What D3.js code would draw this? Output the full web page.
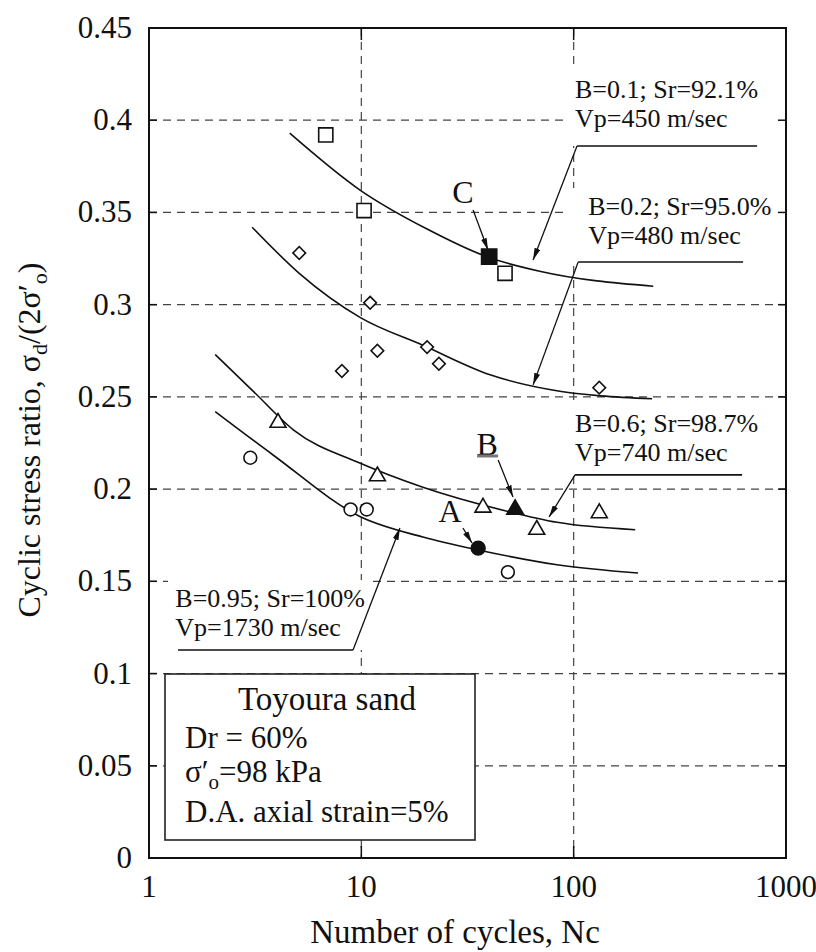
<!DOCTYPE html>
<html>
<head>
<meta charset="utf-8">
<script src="https://d3js.org/d3.v7.min.js"></script>
<style>
  body { margin: 0; background: #fff; }
  svg text { font-family: "Liberation Serif", "Times New Roman", serif; fill: #111; }
</style>
</head>
<body>
<div id="chart"></div>
<script>
// axis ticks
var xTicks = [1, 10, 100, 1000];
var yTicks = [0, 0.05, 0.1, 0.15, 0.2, 0.25, 0.3, 0.35, 0.4, 0.45];
var yTickLabels = ['0', '0.05', '0.1', '0.15', '0.2', '0.25', '0.3', '0.35', '0.4', '0.45'];

// B=0.1 (open squares)
var sqN = [6.8, 10.3, 47.5];
var sqCSR = [0.392, 0.351, 0.317];
// B=0.2 (open diamonds)
var diaN = [5.1, 8.1, 11.0, 11.9, 20.4, 23.2, 132];
var diaCSR = [0.328, 0.264, 0.301, 0.275, 0.277, 0.268, 0.255];
// B=0.6 (open triangles)
var triN = [4.05, 11.9, 37.4, 67, 132];
var triCSR = [0.236, 0.207, 0.190, 0.178, 0.187];
// B=0.95 (open circles)
var cirN = [3.0, 8.9, 10.6, 49];
var cirCSR = [0.217, 0.189, 0.189, 0.155];

// the three marked tests (filled symbols)
var keyNames = ['A', 'B', 'C'];
var keyN = [35.5, 53, 40];
var keyCSR = [0.168, 0.189, 0.326];

// fitted curves
var fitN01 = [4.6, 9.9, 20.4, 39, 70, 237];
var fitCSR01 = [0.393, 0.362, 0.341, 0.326, 0.318, 0.310];
var fitN02 = [3.06, 5.1, 9.9, 19.5, 40.4, 77, 234];
var fitCSR02 = [0.342, 0.317, 0.293, 0.278, 0.262, 0.254, 0.249];
var fitN06 = [2.05, 3.1, 4.8, 9.9, 19.5, 48.6, 83.5, 195];
var fitCSR06 = [0.273, 0.253, 0.232, 0.214, 0.201, 0.188, 0.182, 0.178];
var fitN095 = [2.05, 3.84, 9.9, 19.5, 35.5, 83.5, 201];
var fitCSR095 = [0.242, 0.2185, 0.185, 0.174, 0.167, 0.159, 0.1545];

// curve notes
var noteLines = [
  ['B=0.1; Sr=92.1%', 'Vp=450 m/sec'],
  ['B=0.2; Sr=95.0%', 'Vp=480 m/sec'],
  ['B=0.6; Sr=98.7%', 'Vp=740 m/sec'],
  ['B=0.95; Sr=100%', 'Vp=1730 m/sec']
];
var noteTextN = [101.5, 117, 101.5, 1.33];
var noteTextCSR = [0.412, 0.3486, 0.231, 0.1361];
var noteElbowN = [103.7, 105, 101.5, 9.14];
var noteElbowCSR = [0.386, 0.3231, 0.2077, 0.1128];
var noteEndN = [731, 628, 621, 1.37];
var noteTipN = [64.4, 64.4, 76.6, 15.2];
var noteTipCSR = [0.3242, 0.2565, 0.1849, 0.1789];

// letter labels for A, B, C
var letterN = [26.2, 39.1, 30.1];
var letterCSR = [0.1822, 0.2185, 0.3551];
var letterFromN = [30.1, 44.1, 33.6];
var letterFromCSR = [0.1789, 0.2158, 0.3513];
var letterToN = [33.2, 51.8, 39.5];
var letterToCSR = [0.1708, 0.1957, 0.3296];

var legendLines = ['Dr = 60%', 'D.A. axial strain=5%'];

var width = 816, height = 952;
var plotL = 149, plotR = 786, plotT = 28, plotB = 858;

var x = d3.scaleLog().domain([1, 1000]).range([plotL, plotR]);
var y = d3.scaleLinear().domain([0, 0.45]).range([plotB, plotT]);

var svg = d3.select('#chart').append('svg')
  .attr('width', width)
  .attr('height', height);

svg.append('defs').append('marker')
  .attr('id', 'arrow')
  .attr('viewBox', '0 0 12 6')
  .attr('refX', 12).attr('refY', 3)
  .attr('markerWidth', 12).attr('markerHeight', 6)
  .attr('markerUnits', 'userSpaceOnUse')
  .attr('orient', 'auto')
  .append('path')
  .attr('d', 'M0,0 L12,3 L0,6 Z')
  .attr('fill', '#111');

// dashed grid
svg.append('g').selectAll('line')
  .data(yTicks.slice(1, -1)).enter()
  .append('line')
  .attr('x1', plotL).attr('x2', plotR)
  .attr('y1', function(d) { return y(d); })
  .attr('y2', function(d) { return y(d); })
  .attr('stroke', '#444').attr('stroke-width', 1.2)
  .attr('stroke-dasharray', '8,6');

svg.append('g').selectAll('line')
  .data(xTicks.slice(1, -1)).enter()
  .append('line')
  .attr('x1', function(d) { return x(d); })
  .attr('x2', function(d) { return x(d); })
  .attr('y1', plotT).attr('y2', plotB)
  .attr('stroke', '#444').attr('stroke-width', 1.2)
  .attr('stroke-dasharray', '8,6');

// white patches behind the notes (they hide the grid in the original)
var patches = [[566, 66, plotR - 567, 80], [566, 188, plotR - 567, 74], [566, 403, plotR - 567, 72], [168, 580, 200, 70]];
svg.append('g').selectAll('rect')
  .data(patches).enter()
  .append('rect')
  .attr('x', function(d) { return d[0]; })
  .attr('y', function(d) { return d[1]; })
  .attr('width', function(d) { return d[2]; })
  .attr('height', function(d) { return d[3]; })
  .attr('fill', '#fff');

// frame
svg.append('rect')
  .attr('x', plotL).attr('y', plotT)
  .attr('width', plotR - plotL).attr('height', plotB - plotT)
  .attr('fill', 'none').attr('stroke', '#111').attr('stroke-width', 2);

// inward ticks
yTicks.forEach(function(v) {
  svg.append('line').attr('x1', plotL).attr('x2', plotL + 8)
    .attr('y1', y(v)).attr('y2', y(v)).attr('stroke', '#111').attr('stroke-width', 1.5);
  svg.append('line').attr('x1', plotR).attr('x2', plotR - 8)
    .attr('y1', y(v)).attr('y2', y(v)).attr('stroke', '#111').attr('stroke-width', 1.5);
});
xTicks.slice(1, -1).forEach(function(n) {
  svg.append('line').attr('x1', x(n)).attr('x2', x(n))
    .attr('y1', plotB).attr('y2', plotB - 12).attr('stroke', '#111').attr('stroke-width', 1.5);
  svg.append('line').attr('x1', x(n)).attr('x2', x(n))
    .attr('y1', plotT).attr('y2', plotT + 12).attr('stroke', '#111').attr('stroke-width', 1.5);
});

// tick labels
svg.append('g').selectAll('text')
  .data(yTicks).enter()
  .append('text')
  .attr('x', plotL - 17)
  .attr('y', function(d) { return y(d) + 10; })
  .attr('text-anchor', 'end')
  .attr('font-size', 31)
  .text(function(d, i) { return yTickLabels[i]; });

svg.append('g').selectAll('text')
  .data(xTicks).enter()
  .append('text')
  .attr('x', function(d) { return x(d); })
  .attr('y', plotB + 39)
  .attr('text-anchor', 'middle')
  .attr('font-size', 31)
  .text(function(d) { return d; });

// axis titles
svg.append('text')
  .attr('x', 455).attr('y', 943)
  .attr('text-anchor', 'middle')
  .attr('font-size', 33)
  .text('Number of cycles, Nc');

var yTitle = svg.append('text')
  .attr('transform', 'translate(40,440) rotate(-90)')
  .attr('text-anchor', 'middle')
  .attr('font-size', 32);
yTitle.append('tspan').text('Cyclic stress ratio, \u03c3');
yTitle.append('tspan').attr('dy', 7).attr('font-size', 22).text('d');
yTitle.append('tspan').attr('dy', -7).text('/(2\u03c3\u2032');
yTitle.append('tspan').attr('dy', 7).attr('font-size', 22).text('o');
yTitle.append('tspan').attr('dy', -7).text(')');

// fitted curves
var line = d3.line()
  .x(function(d) { return x(d[0]); })
  .y(function(d) { return y(d[1]); })
  .curve(d3.curveMonotoneX);

[[fitN01, fitCSR01], [fitN02, fitCSR02], [fitN06, fitCSR06], [fitN095, fitCSR095]].forEach(function(f) {
  svg.append('path')
    .datum(d3.zip(f[0], f[1]))
    .attr('d', line)
    .attr('fill', 'none')
    .attr('stroke', '#111')
    .attr('stroke-width', 1.6);
});

// symbols
function drawSymbols(ns, vs, type, size, filled, rot) {
  svg.append('g').selectAll('path')
    .data(d3.zip(ns, vs)).enter()
    .append('path')
    .attr('transform', function(d) {
      return 'translate(' + x(d[0]) + ',' + y(d[1]) + ')' + (rot ? ' rotate(' + rot + ')' : '');
    })
    .attr('d', d3.symbol().type(type).size(size))
    .attr('fill', filled ? '#111' : '#fff')
    .attr('stroke', '#111')
    .attr('stroke-width', 1.6);
}
drawSymbols(sqN, sqCSR, d3.symbolSquare, 200, false);
drawSymbols(diaN, diaCSR, d3.symbolSquare, 80, false, 45);
drawSymbols(triN, triCSR, d3.symbolTriangle, 110, false);
drawSymbols(cirN, cirCSR, d3.symbolCircle, 130, false);
drawSymbols([keyN[0]], [keyCSR[0]], d3.symbolCircle, 150, true);
drawSymbols([keyN[1]], [keyCSR[1]], d3.symbolTriangle, 120, true);
drawSymbols([keyN[2]], [keyCSR[2]], d3.symbolSquare, 230, true);

// notes with leader lines
noteLines.forEach(function(lines, i) {
  lines.forEach(function(t, j) {
    svg.append('text')
      .attr('x', x(noteTextN[i]))
      .attr('y', y(noteTextCSR[i]) + j * 29)
      .attr('font-size', 26)
      .text(t);
  });
  svg.append('line')
    .attr('x1', x(noteElbowN[i])).attr('y1', y(noteElbowCSR[i]))
    .attr('x2', x(noteEndN[i])).attr('y2', y(noteElbowCSR[i]))
    .attr('stroke', '#111').attr('stroke-width', 1.6);
  svg.append('line')
    .attr('x1', x(noteElbowN[i])).attr('y1', y(noteElbowCSR[i]))
    .attr('x2', x(noteTipN[i])).attr('y2', y(noteTipCSR[i]))
    .attr('stroke', '#111').attr('stroke-width', 1.3)
    .attr('marker-end', 'url(#arrow)');
});

// A, B, C labels
keyNames.forEach(function(name, i) {
  svg.append('text')
    .attr('x', x(letterN[i]))
    .attr('y', y(letterCSR[i]))
    .attr('text-anchor', 'middle')
    .attr('font-size', 32)
    .text(name);
  svg.append('line')
    .attr('x1', x(letterFromN[i])).attr('y1', y(letterFromCSR[i]))
    .attr('x2', x(letterToN[i])).attr('y2', y(letterToCSR[i]))
    .attr('stroke', '#111').attr('stroke-width', 1.3)
    .attr('marker-end', 'url(#arrow)');
});
// grey smudge under the B in the scan
svg.append('line')
  .attr('x1', x(letterN[1]) - 10).attr('x2', x(letterN[1]) + 11)
  .attr('y1', y(letterCSR[1]) + 1).attr('y2', y(letterCSR[1]) + 1)
  .attr('stroke', '#777').attr('stroke-width', 3);

// legend box
var box = svg.append('g');
box.append('rect')
  .attr('x', 165).attr('y', 674)
  .attr('width', 310).attr('height', 166)
  .attr('fill', '#fff').attr('stroke', '#222').attr('stroke-width', 1.6);
box.append('text')
  .attr('x', 327).attr('y', 710)
  .attr('text-anchor', 'middle')
  .attr('font-size', 33)
  .text('Toyoura sand');
box.append('text').attr('x', 185).attr('y', 748).attr('font-size', 31).text(legendLines[0]);
var sig = box.append('text').attr('x', 185).attr('y', 782).attr('font-size', 31);
sig.append('tspan').text('\u03c3\u2032');
sig.append('tspan').attr('dy', 7).attr('font-size', 21).text('o');
sig.append('tspan').attr('dy', -7).text('=98 kPa');
box.append('text').attr('x', 185).attr('y', 822).attr('font-size', 31).text(legendLines[1]);
</script>
</body>
</html>
